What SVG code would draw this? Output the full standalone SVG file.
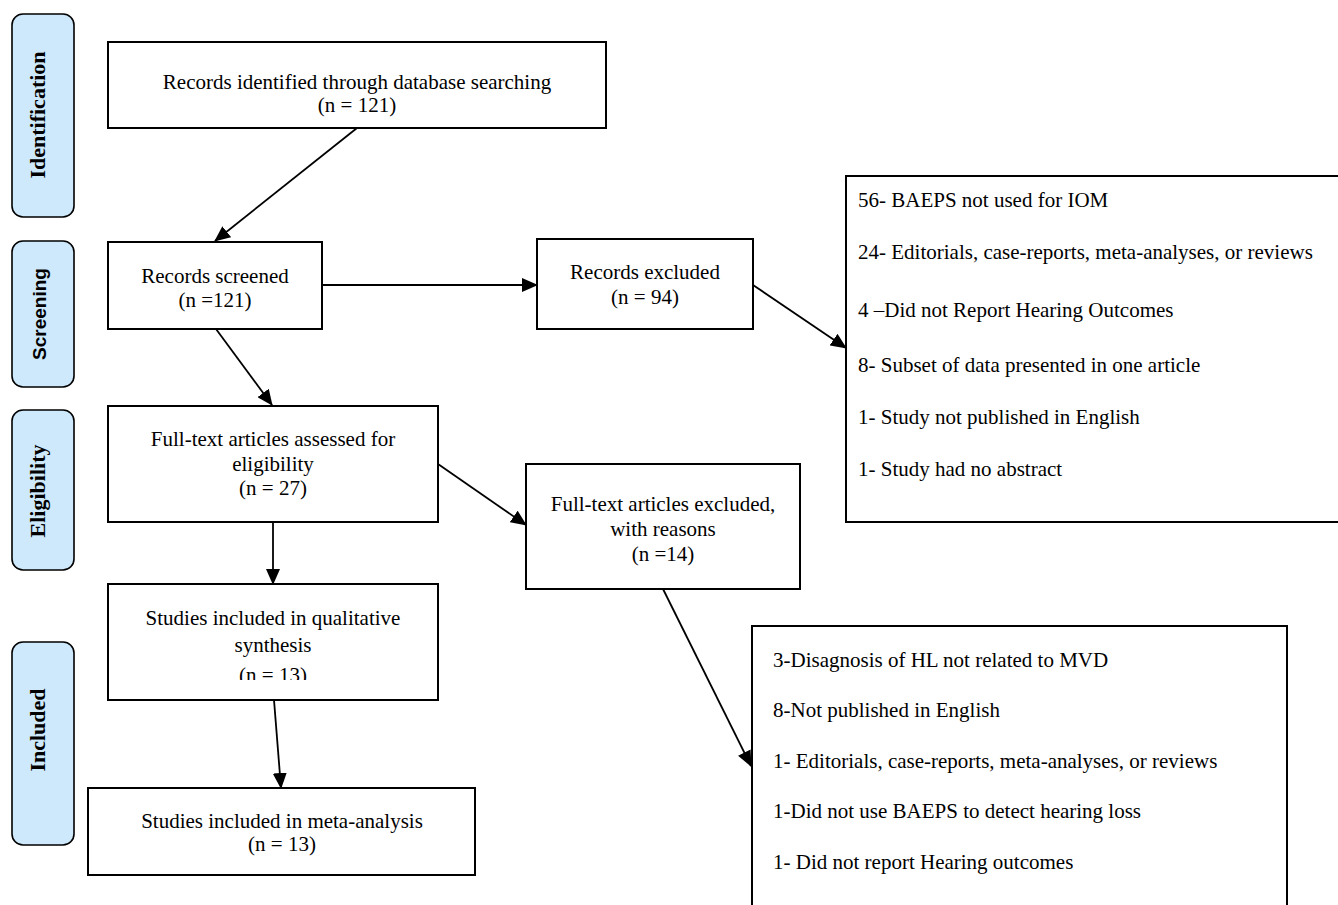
<svg xmlns="http://www.w3.org/2000/svg" width="1338" height="905" viewBox="0 0 1338 905">
<style>
.lab{fill:#cde9fb;stroke:#000;stroke-width:1.6}
.labt{font-family:"Liberation Serif","Times New Roman",serif;font-weight:bold;font-size:22px;fill:#000}
.labs{font-family:"Liberation Sans",Arial,sans-serif;font-weight:bold;font-size:19px;fill:#000}
.box{fill:#fff;stroke:#000;stroke-width:2}
.t{font-family:"Liberation Serif","Times New Roman",serif;font-size:21px;fill:#000}
.c{text-anchor:middle}
.ln{stroke:#000;stroke-width:1.8;fill:none;marker-end:url(#ah)}
</style>
<defs>
<marker id="ah" markerWidth="16" markerHeight="14" refX="15" refY="7" orient="auto" markerUnits="userSpaceOnUse"><path d="M0,0 L16,7 L0,14 z" fill="#000"/></marker>
<clipPath id="clip5"><rect x="108" y="584" width="330" height="96"/></clipPath>
</defs>
<rect width="1338" height="905" fill="#fff"/>
<g id="lab-identification"><rect class="lab" x="12" y="14" width="62" height="203" rx="11"/><text class="labt c" transform="translate(45,115) rotate(-90)">Identification</text></g>
<g id="lab-screening"><rect class="lab" x="12" y="241" width="62" height="146" rx="11"/><text class="labs c" transform="translate(46,314) rotate(-90)">Screening</text></g>
<g id="lab-eligibility"><rect class="lab" x="12" y="410" width="62" height="160" rx="11"/><text class="labt c" transform="translate(45,491) rotate(-90)">Eligibility</text></g>
<g id="lab-included"><rect class="lab" x="12" y="642" width="62" height="203" rx="11"/><text class="labt c" transform="translate(45,730) rotate(-90)">Included</text></g>
<g id="connectors">
<line class="ln" x1="357" y1="128" x2="215" y2="241"/>
<line class="ln" x1="322" y1="285" x2="537" y2="285"/>
<line class="ln" x1="753" y1="285" x2="846" y2="348"/>
<line class="ln" x1="216" y1="329" x2="272" y2="405"/>
<line class="ln" x1="438" y1="464" x2="526" y2="525"/>
<line class="ln" x1="273" y1="522" x2="273" y2="584"/>
<line class="ln" x1="663" y1="589" x2="751" y2="766"/>
<line class="ln" x1="274" y1="700" x2="281" y2="788"/>
</g>
<g id="n-identified"><rect class="box" x="108" y="42" width="498" height="86"/><text class="t c" x="357" y="89">Records identified through database searching</text><text class="t c" x="357" y="112">(n = 121)</text></g>
<g id="n-screened"><rect class="box" x="108" y="242" width="214" height="87"/><text class="t c" x="215" y="283">Records screened</text><text class="t c" x="215" y="307">(n =121)</text></g>
<g id="n-excluded"><rect class="box" x="537" y="239" width="216" height="90"/><text class="t c" x="645" y="279">Records excluded</text><text class="t c" x="645" y="304">(n = 94)</text></g>
<g id="n-reasons1"><rect class="box" x="846" y="176" width="500" height="346"/>
<text class="t" x="858" y="207">56- BAEPS not used for IOM</text>
<text class="t" x="858" y="259">24- Editorials, case-reports, meta-analyses, or reviews</text>
<text class="t" x="858" y="317">4 –Did not Report Hearing Outcomes</text>
<text class="t" x="858" y="372">8- Subset of data presented in one article</text>
<text class="t" x="858" y="424">1- Study not published in English</text>
<text class="t" x="858" y="476">1- Study had no abstract</text></g>
<g id="n-assessed"><rect class="box" x="108" y="406" width="330" height="116"/><text class="t c" x="273" y="446">Full-text articles assessed for</text><text class="t c" x="273" y="471">eligibility</text><text class="t c" x="273" y="495">(n = 27)</text></g>
<g id="n-ftexcluded"><rect class="box" x="526" y="464" width="274" height="125"/><text class="t c" x="663" y="511">Full-text articles excluded,</text><text class="t c" x="663" y="536">with reasons</text><text class="t c" x="663" y="561">(n =14)</text></g>
<g id="n-qualitative"><rect class="box" x="108" y="584" width="330" height="116"/><g clip-path="url(#clip5)"><text class="t c" x="273" y="625">Studies included in qualitative</text><text class="t c" x="273" y="652">synthesis</text><text class="t c" x="273" y="682">(n = 13)</text></g></g>
<g id="n-reasons2"><rect class="box" x="752" y="626" width="535" height="290"/>
<text class="t" x="773" y="667">3-Disagnosis of HL not related to MVD</text>
<text class="t" x="773" y="717">8-Not published in English</text>
<text class="t" x="773" y="768">1- Editorials, case-reports, meta-analyses, or reviews</text>
<text class="t" x="773" y="818">1-Did not use BAEPS to detect hearing loss</text>
<text class="t" x="773" y="869">1- Did not report Hearing outcomes</text></g>
<g id="n-meta"><rect class="box" x="88" y="788" width="387" height="87"/><text class="t c" x="282" y="828">Studies included in meta-analysis</text><text class="t c" x="282" y="851">(n = 13)</text></g>
</svg>
